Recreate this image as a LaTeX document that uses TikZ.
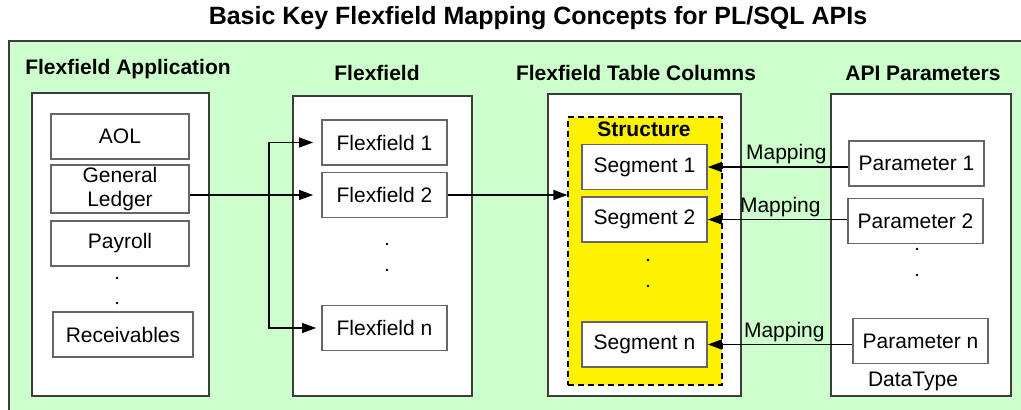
\documentclass[tikz,border=0pt]{standalone}
\usepackage{fontspec}
\setmainfont{Liberation Sans}
\usepackage{tikz}
\usetikzlibrary{arrows.meta, positioning}
\definecolor{bggreen}{HTML}{CCFFCC}
\definecolor{boxline}{HTML}{3C3C3C}
\definecolor{itemline}{HTML}{666666}
\begin{document}
\begin{tikzpicture}[x=1pt, y=-1pt, line width=1.3pt,
        font=\fontsize{21}{25}\selectfont,
        col/.style = {draw=boxline, fill=white, line width=1.5pt, inner sep=0pt},
        item/.style = {draw=itemline, fill=white, line width=1.8pt, inner sep=0pt,
                       minimum height=45pt, align=center},
        head/.style = {font=\fontsize{21}{25}\selectfont\bfseries},
        dotmark/.style = {circle, fill=black, inner sep=1pt},
        arr/.style = {-{Triangle[length=14pt, width=10pt]}, line width=1.3pt}]
        \useasboundingbox (0,0) rectangle (1021,410);
        \clip (0,0) rectangle (1021,410);
        \fill[bggreen, draw=boxline, line width=1.5pt] (9,41) rectangle (1040,430);

        \node[font=\fontsize{25}{30}\selectfont\bfseries] (title) at (538,18)
            {Basic Key Flexfield Mapping Concepts for PL/SQL APIs};

        \node[head] (happ) at (128,69) {Flexfield Application};
        \node[head] (hflex) at (377,73) {Flexfield};
        \node[head] (hcols) at (636,73) {Flexfield Table Columns};
        \node[head] (hapi) at (923,73) {API Parameters};

        \node[col, minimum width=177pt, minimum height=303pt] (app) at (120.5,244.5) {};
        \node[col, minimum width=179pt, minimum height=300pt] (flex) at (382.5,246) {};
        \node[col, minimum width=193pt, minimum height=302pt] (cols) at (644.5,245) {};
        \node[col, minimum width=180pt, minimum height=302pt] (api) at (921,245) {};

        \node[item, minimum width=138pt] (aol) at (120,136.5) {AOL};
        \node[item, minimum width=138pt, minimum height=48pt] (genledger) at (120,189)
            {General\\[-1pt]Ledger};
        \node[item, minimum width=138pt] (payroll) at (120,243.5) {Payroll};
        \node[item, minimum width=140pt] (receivables) at (123,334.5) {Receivables};

        \node[item, minimum width=125pt] (flex1) at (384.5,142.5) {Flexfield 1};
        \node[item, minimum width=125pt] (flex2) at (384.5,195) {Flexfield 2};
        \node[item, minimum width=125pt] (flexn) at (384.5,328) {Flexfield n};

        \node[draw=black, fill=yellow, dashed, line width=1.3pt, dash pattern=on 6pt off 4pt,
              minimum width=154pt, minimum height=268pt] (structure) at (645,251) {};
        \node[head] (structlabel) at (644,129) {Structure};
        \node[item, minimum width=125pt] (seg1) at (644.5,167) {Segment 1};
        \node[item, minimum width=125pt] (seg2) at (644.5,219.5) {Segment 2};
        \node[item, minimum width=125pt] (segn) at (644.5,344.5) {Segment n};

        \node[item, minimum width=135pt] (param1) at (916.5,163.5) {Parameter 1};
        \node[item, minimum width=135pt] (param2) at (915.5,221) {Parameter 2};
        \node[item, minimum width=135pt] (paramn) at (920.5,341) {Parameter n};
        \node (datatype) at (913,381) {DataType};

        \foreach \name/\x/\y in {a1/117/278, a2/117/303, f1/387/244, f2/387/270,
                                 s1/648/260, s2/648/286, p1/917/249, p2/917/275}
            \node[dotmark] (dot\name) at (\x,\y) {};

        \coordinate (fork) at (269,195);
        \draw[arr, shorten >=8pt] (genledger.east |- flex2.west) -- (flex2.west);
        \draw[arr, shorten >=8pt] (fork) |- (flex1.west);
        \draw[arr, shorten >=5pt] (fork) |- (flexn.west);
        \draw[arr] (flex2.east) -- (flex2.east -| structure.west);

        \draw[arr] (seg1.east -| param1.west) -- node[above, pos=0.44, inner sep=2pt] {Mapping} (seg1.east);
        \draw[arr] (seg2.east -| param2.west) -- node[above, pos=0.48, inner sep=2pt] {Mapping} (seg2.east);
        \draw[arr] (segn.east -| paramn.west) -- node[above, pos=0.47, inner sep=2pt] {Mapping} (segn.east);
    \end{tikzpicture}
\end{document}
